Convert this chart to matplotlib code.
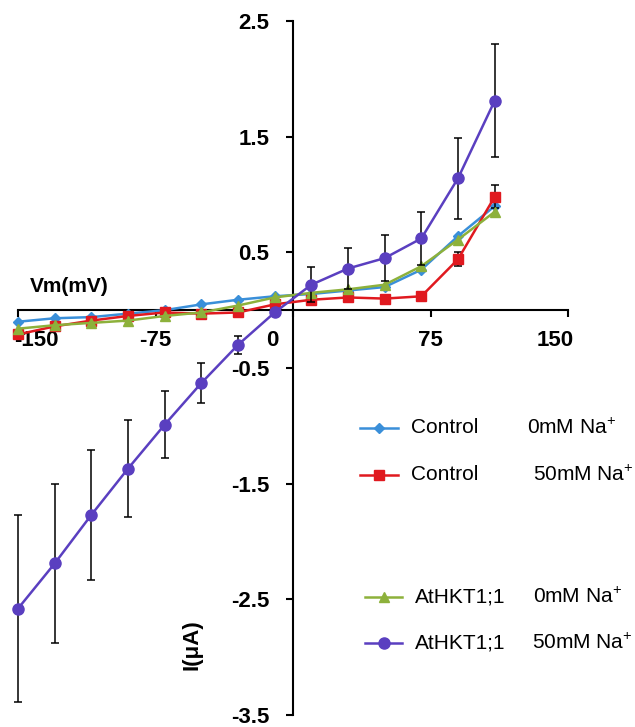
import matplotlib.pyplot as plt
from matplotlib.lines import Line2D

plt.rcParams['font.family'] = ['Liberation Sans', 'DejaVu Sans']
plt.rcParams['mathtext.fontset'] = 'custom'
plt.rcParams['mathtext.rm'] = 'Liberation Sans'

# membrane voltage (mV)
voltage = [-150, -130, -110, -90, -70, -50, -30, -10, 10, 30, 50, 70, 90, 110]

# currents (uA)
ctrl_0 = [-0.10, -0.07, -0.06, -0.03, 0.00, 0.05, 0.09, 0.12, 0.14, 0.17, 0.20, 0.35, 0.64, 0.90]
ctrl_50 = [-0.21, -0.14, -0.09, -0.05, -0.02, -0.03, -0.02, 0.05, 0.09, 0.11, 0.10, 0.12, 0.44, 0.98]
hkt_0 = [-0.16, -0.13, -0.11, -0.09, -0.05, -0.02, 0.04, 0.11, 0.15, 0.18, 0.22, 0.38, 0.61, 0.85]
hkt_50 = [-2.58, -2.19, -1.77, -1.37, -0.99, -0.63, -0.30, -0.02, 0.22, 0.36, 0.45, 0.62, 1.14, 1.81]

ctrl_50_err = [0.02, 0.02, 0.02, 0.02, 0.02, 0.02, 0.02, 0.02, 0.02, 0.02, 0.02, 0.02, 0.06, 0.10]
hkt_50_err = [0.81, 0.69, 0.56, 0.42, 0.29, 0.17, 0.08, 0.03, 0.15, 0.18, 0.20, 0.23, 0.35, 0.49]

x_ticks = [-150, -75, 0, 75, 150]
y_ticks = [-3.5, -2.5, -1.5, -0.5, 0.5, 1.5, 2.5]

series = [
    ('Control', '0mM Na$^{+}$', ctrl_0, None, '#3a8fd9', 'D', 5),
    ('Control', '50mM Na$^{+}$', ctrl_50, ctrl_50_err, '#e0191f', 's', 7),
    ('AtHKT1;1', '0mM Na$^{+}$', hkt_0, None, '#8db13b', '^', 7),
    ('AtHKT1;1', '50mM Na$^{+}$', hkt_50, hkt_50_err, '#5a3fc0', 'o', 8),
]

W, H = 635, 727
fig = plt.figure(figsize=(W / 100, H / 100), dpi=100)
ax = fig.add_axes([18 / W, 12 / H, 550 / W, 694 / H])

for i, (name, conc, vals, err, col, mk, ms) in enumerate(series):
    if err is not None:
        ax.errorbar(voltage, vals, yerr=err, fmt='none', ecolor='black',
                    elinewidth=1.1, capsize=3, capthick=1.1, zorder=2 + i, clip_on=False)
    ax.plot(voltage, vals, color=col, marker=mk, markersize=ms, linewidth=1.8,
            zorder=3 + i, clip_on=False)

ax.set_xlim(-150, 150)
ax.set_ylim(-3.5, 2.5)
ax.spines['left'].set_position(('data', 0))
ax.spines['bottom'].set_position(('data', 0))
ax.spines['top'].set_visible(False)
ax.spines['right'].set_visible(False)
for s in ['left', 'bottom']:
    ax.spines[s].set_linewidth(1.5)

ax.set_yticks(y_ticks)
ax.set_yticklabels([str(v) for v in y_ticks], fontsize=16, fontweight='bold')
ax.tick_params(axis='y', direction='out', length=5, width=1.5, pad=12)
ax.set_xticks(x_ticks)
ax.tick_params(axis='x', direction='out', length=5, width=1.5, labelbottom=False)

# x tick labels placed by hand (shifted like the original)
x_shift = {-150: 13, -75: 0, 0: -15, 75: 0, 150: -9}
for v in x_ticks:
    ax.annotate(str(v), xy=(v, 0), xytext=(x_shift[v], -14), textcoords='offset points',
                ha='center', va='top', fontsize=16, fontweight='bold', annotation_clip=False)

fig.text(69 / W, 1 - 286 / H, 'Vm(mV)', ha='center', va='center', fontsize=15, fontweight='bold')
fig.text(192 / W, 1 - 645 / H, 'I(μA)', ha='center', va='center', fontsize=16,
         fontweight='bold', rotation=90)

# legend drawn by hand
leg_rows = [(360, 398, 428, 411, 527), (360, 398, 475, 411, 533),
            (365, 402, 597, 415, 533), (365, 402, 643, 415, 532)]
for (name, conc, vals, err, col, mk, ms), (x0, x1, y, tx, cx) in zip(series, leg_rows):
    fy = 1 - y / H
    fig.add_artist(Line2D([x0 / W, x1 / W], [fy, fy], color=col, linewidth=1.8,
                          transform=fig.transFigure))
    fig.add_artist(Line2D([(x0 + x1) / 2 / W], [fy], color=col, marker=mk, markersize=ms,
                          transform=fig.transFigure))
    fig.text(tx / W, fy, name, ha='left', va='center', fontsize=15)
    fig.text(cx / W, fy, conc, ha='left', va='center', fontsize=15)

fig.savefig('out.png', dpi=100)
